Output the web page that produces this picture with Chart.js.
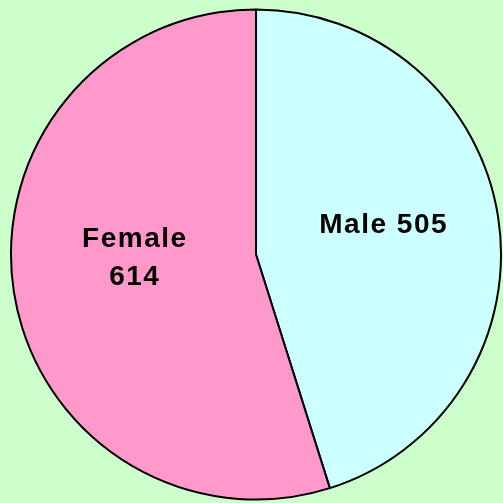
<!DOCTYPE html>
<html>
<head>
<meta charset="utf-8">
<script src="https://cdn.jsdelivr.net/npm/chart.js@4/dist/chart.umd.min.js"></script>
<style>
  html, body { margin: 0; padding: 0; background: #ccffcc; }
  #wrap { width: 503px; height: 503px; }
</style>
</head>
<body>
<div id="wrap"><canvas id="pie" width="503" height="503"></canvas></div>
<script>
const CATEGORIES = ['Male', 'Female'];
const VALUES = [505, 614];
const COLORS = ['#ccffff', '#ff99cc'];

// how each label is split over lines
const LABEL_LINES = [
  (c, v) => [`${c} ${v}`],
  (c, v) => [c, `${v}`],
];
// small hand nudges so labels sit where the original put them
const NUDGE = [[1, -11], [4, -17]];

const sliceLabels = {
  id: 'sliceLabels',
  afterDatasetsDraw(chart) {
    const { ctx } = chart;
    const meta = chart.getDatasetMeta(0);
    ctx.save();
    ctx.font = 'bold 28px "Liberation Sans", Arial, sans-serif';
    ctx.letterSpacing = '1.5px';
    ctx.fillStyle = '#000';
    ctx.textAlign = 'center';
    ctx.textBaseline = 'middle';
    meta.data.forEach((arc, i) => {
      const mid = (arc.startAngle + arc.endAngle) / 2;
      const r = arc.outerRadius * 0.52;
      const x = arc.x + Math.cos(mid) * r + NUDGE[i][0];
      const y = arc.y + Math.sin(mid) * r + NUDGE[i][1];
      const lines = LABEL_LINES[i](CATEGORIES[i], VALUES[i]);
      const lh = 38;
      lines.forEach((t, k) => {
        ctx.fillText(t, x + 0.75, y + 1 + (k - (lines.length - 1) / 2) * lh);
      });
    });
    ctx.restore();
  },
};

new Chart(document.getElementById('pie'), {
  type: 'pie',
  data: {
    labels: CATEGORIES,
    datasets: [{
      data: VALUES,
      backgroundColor: COLORS,
      borderColor: '#000',
      borderWidth: 2,
      borderAlign: 'center',
    }],
  },
  options: {
    responsive: false,
    animation: false,
    rotation: 0,
    layout: { padding: { left: 10, right: 1, top: 8, bottom: 2 } },
    plugins: {
      legend: { display: false },
      tooltip: { enabled: false },
    },
  },
  plugins: [sliceLabels],
});
</script>
</body>
</html>
